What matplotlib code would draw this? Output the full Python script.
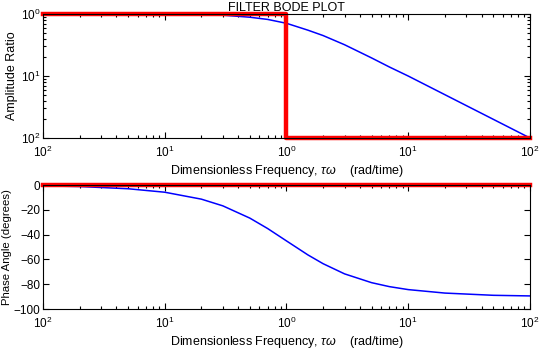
import matplotlib
matplotlib.use("Agg")
import matplotlib.pyplot as plt
from matplotlib.ticker import FixedLocator, FixedFormatter, LogLocator, NullFormatter

plt.rcParams["font.family"] = ["Liberation Sans", "DejaVu Sans"]
plt.rcParams["mathtext.fontset"] = "custom"
plt.rcParams["mathtext.rm"] = "Liberation Sans"
plt.rcParams["mathtext.it"] = "Liberation Sans:italic"
plt.rcParams["font.size"] = 9

# blue curves
freq = [0.01, 0.02, 0.05, 0.1, 0.2, 0.3, 0.5, 0.7, 1, 1.5, 2, 3, 5, 7, 10, 20, 50, 100]
amp_ratio = [1.0, 1.0, 0.999, 0.995, 0.98, 0.96, 0.89, 0.82, 0.71, 0.55, 0.45,
             0.32, 0.196, 0.14, 0.1, 0.05, 0.02, 0.01]
phase_deg = [-0.6, -1.1, -2.9, -5.7, -11.3, -16.7, -26.6, -35.0, -45.0, -56.3, -63.4,
             -71.6, -78.7, -81.9, -84.3, -87.1, -88.9, -89.4]

# red ideal filter
step_freq = [0.01, 1, 1, 100]
step_amp = [1, 1, 0.01, 0.01]
flat_freq = [0.01, 100]
flat_phase = [0, 0]

x_ticks = [0.01, 0.1, 1, 10, 100]
x_ticklabels = ["$10^{2}$", "$10^{1}$", "$10^{0}$", "$10^{1}$", "$10^{2}$"]
amp_ticks = [0.01, 0.1, 1]
amp_ticklabels = ["$10^{2}$", "$10^{1}$", "$10^{0}$"]
phase_ticks = [-100, -80, -60, -40, -20, 0]

xlabel = "Dimensionless Frequency, $\\tau\\omega$    (rad/time)"


def style_axes(ax):
    ax.tick_params(which="both", direction="in", top=True, right=True, width=0.8,
                   labelsize=8.5)
    ax.tick_params(which="major", length=4, pad=2)
    ax.tick_params(axis="x", which="major", pad=5)
    ax.tick_params(which="minor", length=2)
    for s in ax.spines.values():
        s.set_linewidth(0.8)
    ax.set_xscale("log")
    ax.set_xlim(0.01, 100)
    ax.xaxis.set_major_locator(FixedLocator(x_ticks))
    ax.xaxis.set_major_formatter(FixedFormatter(x_ticklabels))
    ax.xaxis.set_minor_locator(LogLocator(base=10, subs=range(2, 10)))
    ax.xaxis.set_minor_formatter(NullFormatter())
    ax.set_xlabel(xlabel, labelpad=2)


fig = plt.figure(figsize=(5.42, 3.52), dpi=100)

ax1 = fig.add_axes([0.0793, 0.608, 0.8985, 0.352])
ax1.plot(freq, amp_ratio, color="#0000ff", lw=1.1)
ax1.plot(step_freq, step_amp, color="#ff0000", lw=3.2, clip_on=False)
style_axes(ax1)
ax1.set_yscale("log")
ax1.set_ylim(0.01, 1)
ax1.yaxis.set_major_locator(FixedLocator(amp_ticks))
ax1.yaxis.set_major_formatter(FixedFormatter(amp_ticklabels))
ax1.yaxis.set_minor_locator(LogLocator(base=10, subs=range(2, 10)))
ax1.yaxis.set_minor_formatter(NullFormatter())
ax1.set_ylabel("Amplitude Ratio", labelpad=2)
ax1.set_title("FILTER BODE PLOT", fontsize=9, pad=1)

ax2 = fig.add_axes([0.0793, 0.122, 0.8985, 0.352])
ax2.plot(freq, phase_deg, color="#0000ff", lw=1.1)
ax2.plot(flat_freq, flat_phase, color="#ff0000", lw=3.2, clip_on=False)
style_axes(ax2)
ax2.set_ylim(-100, 0)
ax2.set_yticks(phase_ticks)
ax2.set_ylabel("Phase Angle (degrees)", fontsize=8.2, labelpad=1)

fig.savefig("out.png", dpi=100)
